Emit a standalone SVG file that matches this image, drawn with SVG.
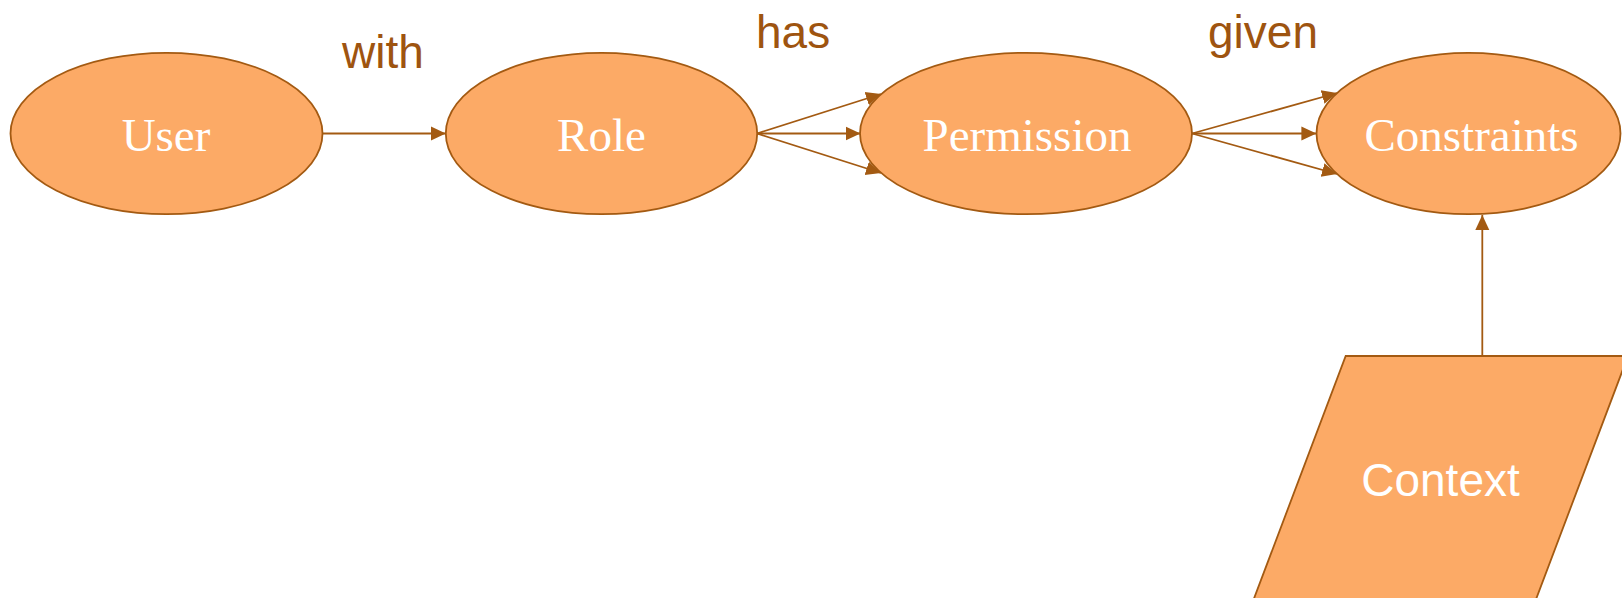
<svg xmlns="http://www.w3.org/2000/svg" width="1622" height="598" viewBox="0 0 1622 598">
<style>
.node{fill:#fcaa66;stroke:#a35a12;stroke-width:1.8}
.ntext{font-family:"Liberation Serif","Times New Roman",serif;font-size:47px;fill:#ffffff;text-anchor:middle}
.ctext{font-family:"Liberation Sans",Arial,sans-serif;font-size:46px;fill:#ffffff;text-anchor:middle}
.lbl{font-family:"Liberation Sans",Arial,sans-serif;font-size:46px;fill:#9e5410}
.edge{stroke:#a35a12;stroke-width:1.8;fill:none;marker-end:url(#arr)}
</style>
<defs>
<marker id="arr" markerUnits="userSpaceOnUse" markerWidth="16" markerHeight="16" refX="15" refY="7" orient="auto" viewBox="0 0 16 14">
<path d="M0,0 L15,7 L0,14 z" fill="#a35a12"/>
</marker>
</defs>
<rect width="1622" height="598" fill="#ffffff"/>
<g id="connectors">
<line class="edge" x1="322.7" y1="133.5" x2="445.8" y2="133.5"/>
<line class="edge" x1="757" y1="133.5" x2="881" y2="94"/>
<line class="edge" x1="757" y1="133.5" x2="860.5" y2="133.5"/>
<line class="edge" x1="757" y1="133.5" x2="881" y2="173"/>
<line class="edge" x1="1192" y1="133.5" x2="1337" y2="93"/>
<line class="edge" x1="1192" y1="133.5" x2="1316.4" y2="133.5"/>
<line class="edge" x1="1192" y1="133.5" x2="1337" y2="174"/>
<line class="edge" x1="1482.3" y1="356" x2="1482.3" y2="215"/>
</g>
<g id="labels">
<text class="lbl" x="342" y="68">with</text>
<text class="lbl" x="756" y="48">has</text>
<text class="lbl" x="1208" y="48">given</text>
</g>
<g id="user">
<ellipse class="node" cx="166.5" cy="133.5" rx="156" ry="80.7"/>
<text class="ntext" x="166" y="150.5">User</text>
</g>
<g id="role">
<ellipse class="node" cx="601.5" cy="133.5" rx="155.7" ry="80.7"/>
<text class="ntext" x="601.5" y="150.5">Role</text>
</g>
<g id="permission">
<ellipse class="node" cx="1026" cy="133.5" rx="166" ry="80.7"/>
<text class="ntext" x="1027" y="150.5">Permission</text>
</g>
<g id="constraints">
<ellipse class="node" cx="1468.5" cy="133.5" rx="152" ry="80.7"/>
<text class="ntext" x="1471.5" y="150.5">Constraints</text>
</g>
<g id="context">
<polygon class="node" points="1345.7,356 1628,356 1531.2,612 1248.9,612"/>
<text class="ctext" x="1440.5" y="496">Context</text>
</g>
</svg>
